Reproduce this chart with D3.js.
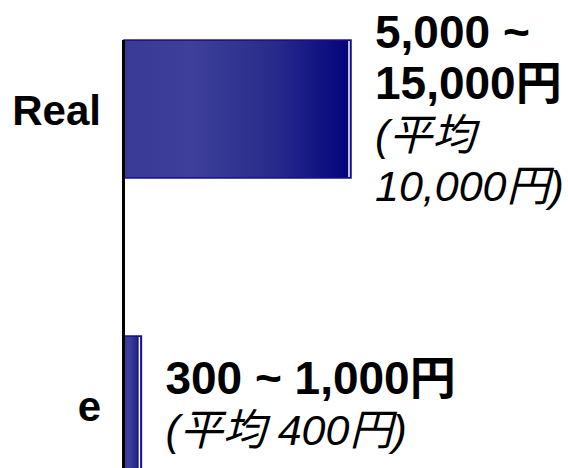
<!DOCTYPE html>
<html>
<head>
<meta charset="utf-8">
<script src="https://cdn.jsdelivr.net/npm/d3@7"></script>
<style>
  html, body { margin: 0; padding: 0; background: #fff; overflow: hidden; }
  svg { display: block; }
</style>
</head>
<body>
<script>
// ---- data ----
const categories = ["Real", "e"];
const values = [15000, 1150];
const rangeLines = [["5,000 ~", "15,000円"], ["300 ~ 1,000円"]];
const avgLines = [["(平均", "10,000円)"], ["(平均 400円)"]];

// ---- layout ----
const W = 568, H = 468;
const axisX = 124;
const svg = d3.select("body").append("svg").attr("width", W).attr("height", H);

const x = d3.scaleLinear().domain([0, 15000]).range([axisX, 351]);
const y = d3.scaleBand().domain(categories).range([-118, 632]).padding(0.534);

const defs = svg.append("defs");
const grad = defs.append("linearGradient").attr("id", "barGrad")
  .attr("x1", "0%").attr("x2", "100%").attr("y1", "0%").attr("y2", "0%");
[[0, "#383a94"], [0.3, "#3d3f9a"], [0.65, "#2a2c8c"], [1, "#03037c"]].forEach(([o, c]) =>
  grad.append("stop").attr("offset", o).attr("stop-color", c));

const font = "'Liberation Sans', Arial, 'Noto Sans CJK JP', sans-serif";

const g = svg.append("g");
const bars = g.selectAll("g.bar").data(categories).join("g").attr("class", "bar");

bars.append("rect")
  .attr("x", axisX)
  .attr("y", d => y(d))
  .attr("width", (d, i) => x(values[i]) - axisX)
  .attr("height", y.bandwidth())
  .attr("fill", "url(#barGrad)")
  .attr("stroke", "#10108a")
  .attr("stroke-width", 1.5);

bars.append("line")
  .attr("x1", (d, i) => x(values[i]) - 2)
  .attr("x2", (d, i) => x(values[i]) - 2)
  .attr("y1", d => y(d) + 1)
  .attr("y2", d => y(d) + y.bandwidth() - 1)
  .attr("stroke", "#fff")
  .attr("stroke-width", 1.5);

// axis line
g.append("line")
  .attr("x1", axisX - 0.5).attr("x2", axisX - 0.5)
  .attr("y1", y(categories[0])).attr("y2", H + 10)
  .attr("stroke", "#000").attr("stroke-width", 3);

// category labels
g.selectAll("text.cat").data(categories).join("text")
  .attr("class", "cat")
  .attr("x", 101)
  .attr("y", d => y(d) + y.bandwidth() / 2 + 16)
  .attr("text-anchor", "end")
  .attr("font-family", font)
  .attr("font-weight", "bold")
  .attr("font-size", 42)
  .attr("fill", "#000")
  .text(d => d);

// value labels
const pitch = 51;
categories.forEach((c, i) => {
  const lines = rangeLines[i].map(t => ({ t, bold: true }))
    .concat(avgLines[i].map(t => ({ t, bold: false })));
  const n = lines.length;
  const cy = y(c) + y.bandwidth() / 2;
  const lx = x(values[i]) + 24;
  lines.forEach((ln, j) => {
    g.append("text")
      .attr("x", lx)
      .attr("y", cy + (j - (n - 1) / 2) * pitch + 15)
      .attr("font-family", font)
      .attr("font-weight", ln.bold ? "bold" : "normal")
      .attr("font-style", ln.bold ? "normal" : "italic")
      .attr("font-size", ln.bold ? 46 : 43)
      .attr("fill", "#000")
      .text(ln.t);
  });
});
</script>
</body>
</html>
